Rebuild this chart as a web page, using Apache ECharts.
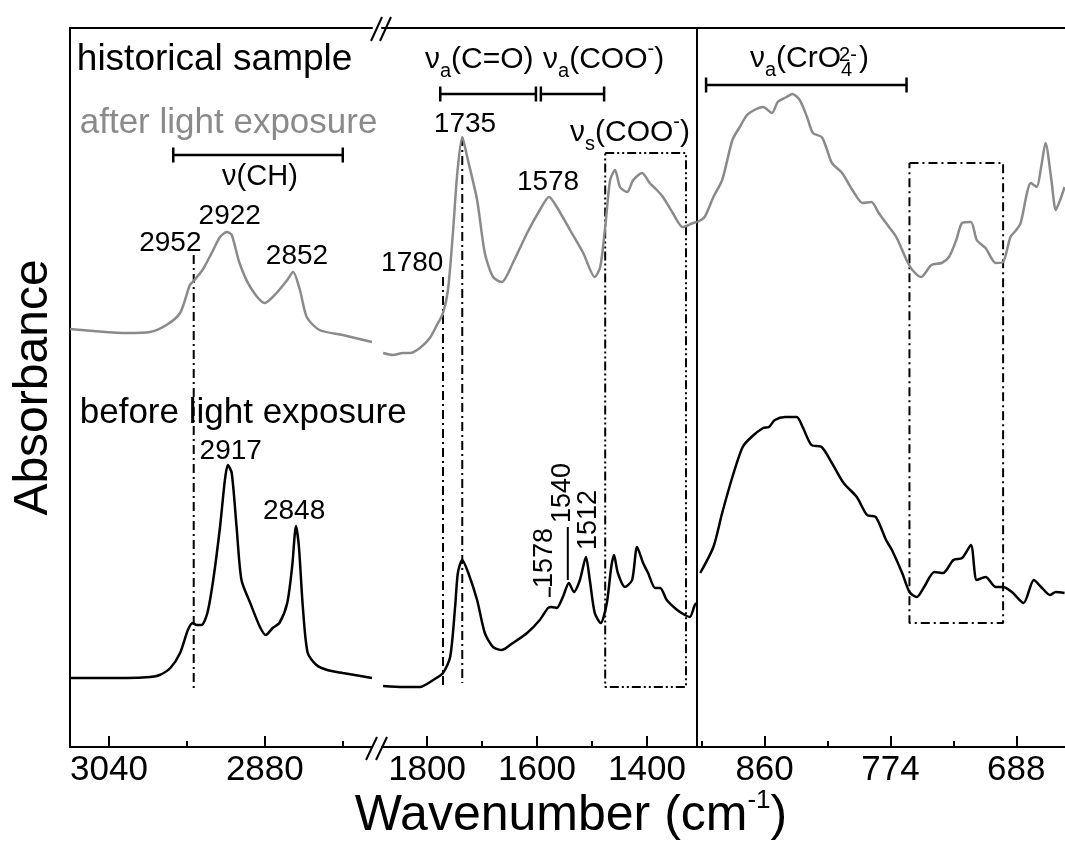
<!DOCTYPE html>
<html>
<head>
<meta charset="utf-8">
<script src="https://cdn.jsdelivr.net/npm/echarts@6/dist/echarts.min.js"></script>
<style>
  html, body { margin: 0; padding: 0; background: #fff; }
  #main { width: 1065px; height: 846px; }
</style>
</head>
<body>
<div id="main"></div>
<script>
// x ranges of the three broken-axis panels (cm-1, drawn reversed)
const range1 = [2770, 3080];
const range2 = [1309, 1882];
const range3 = [654.7, 906.2];

const major1 = [3040, 2880], minor1 = [2960, 2800];
const major2 = [1800, 1600, 1400], minor2 = [1700, 1500];
const major3 = [860, 774, 688], minor3 = [903, 817, 731];

// historical sample after light exposure (grey), [wavenumber, absorbance a.u.]
const afterCH = [[3080,4.18],[3056,4.16],[3022,4.14],[2998,4.15],[2981,4.22],[2967,4.34],[2957,4.62],[2954,4.65],[2944,4.77],[2933,4.97],[2926,5.10],[2919,5.15],[2914,5.12],[2906,4.84],[2895,4.60],[2880,4.44],[2868,4.54],[2857,4.67],[2851,4.75],[2844,4.57],[2837,4.30],[2824,4.17],[2800,4.12],[2770,4.05]];
const afterCO = [[1880,3.94],[1862,3.92],[1844,3.94],[1831,3.94],[1813,3.99],[1795,4.09],[1782,4.22],[1771,4.34],[1762,4.57],[1753,5.14],[1745,5.74],[1736,6.10],[1727,5.90],[1709,5.47],[1695,4.94],[1680,4.70],[1664,4.65],[1644,4.84],[1618,5.14],[1598,5.34],[1578,5.50],[1564,5.40],[1540,5.17],[1516,4.94],[1495,4.70],[1485,4.80],[1476,5.20],[1467,5.67],[1458,5.77],[1449,5.60],[1436,5.55],[1425,5.67],[1409,5.74],[1395,5.64],[1382,5.57],[1371,5.50],[1353,5.34],[1335,5.20],[1316,5.24],[1309,5.25]];
const afterCr = [[906,5.25],[901,5.30],[895,5.50],[889,5.67],[882,6.07],[877,6.20],[872,6.32],[867,6.37],[861,6.40],[855,6.34],[851,6.45],[845,6.50],[841,6.53],[836,6.47],[831,6.30],[827,6.14],[821,6.10],[818,6.00],[814,5.84],[807,5.74],[800,5.57],[793,5.44],[787,5.45],[782,5.34],[775,5.20],[770,5.10],[763,4.87],[759,4.77],[753,4.70],[746,4.82],[739,4.84],[734,4.90],[729,5.07],[725,5.24],[719,5.25],[715,5.07],[709,4.99],[702,4.84],[697,4.85],[692,5.10],[688,5.17],[685,5.24],[678,5.64],[674,5.60],[671,5.80],[668,6.04],[664,5.67],[661,5.37],[658,5.47],[655,5.60]];

// before light exposure (black)
const beforeCH = [[3080,0.69],[3056,0.69],[3022,0.69],[2998,0.70],[2988,0.72],[2977,0.79],[2967,0.94],[2959,1.17],[2954,1.24],[2950,1.22],[2945,1.22],[2939,1.34],[2933,1.67],[2926,2.20],[2921,2.67],[2918,2.82],[2914,2.74],[2909,2.20],[2904,1.67],[2895,1.44],[2885,1.20],[2879,1.12],[2872,1.19],[2865,1.24],[2857,1.44],[2852,1.80],[2848,2.21],[2845,2.00],[2841,1.40],[2836,0.94],[2827,0.82],[2816,0.77],[2800,0.74],[2770,0.69]];
const beforeCO = [[1880,0.61],[1844,0.60],[1813,0.60],[1789,0.67],[1771,0.74],[1758,0.90],[1749,1.40],[1744,1.74],[1736,1.87],[1725,1.74],[1709,1.47],[1695,1.14],[1680,1.00],[1664,0.97],[1644,1.04],[1618,1.14],[1595,1.27],[1580,1.39],[1573,1.40],[1564,1.39],[1553,1.50],[1542,1.64],[1533,1.55],[1522,1.67],[1511,1.90],[1504,1.67],[1495,1.34],[1484,1.24],[1473,1.44],[1465,1.80],[1460,1.92],[1453,1.74],[1440,1.60],[1427,1.67],[1418,2.00],[1407,1.84],[1398,1.74],[1385,1.59],[1376,1.59],[1364,1.47],[1345,1.37],[1331,1.32],[1322,1.30],[1313,1.42],[1309,1.44]];
const beforeCr = [[904,1.74],[895,2.00],[889,2.34],[882,2.70],[875,3.00],[869,3.10],[861,3.19],[857,3.20],[853,3.27],[846,3.30],[843,3.30],[838,3.30],[834,3.20],[828,3.02],[821,3.00],[814,2.84],[806,2.64],[797,2.50],[790,2.32],[784,2.30],[777,2.07],[773,1.97],[766,1.74],[761,1.55],[756,1.50],[751,1.60],[744,1.75],[738,1.74],[731,1.87],[725,1.89],[719,2.02],[715,1.67],[709,1.70],[702,1.60],[697,1.60],[691,1.55],[683,1.44],[676,1.67],[671,1.60],[665,1.52],[661,1.55],[655,1.54]];

// vertical guide lines [wavenumber, top, bottom]
const guides1 = [[2953, 4.92, 0.59]];
const guides2 = [[1771, 4.70, 0.60], [1736, 6.10, 0.64]];
// boxes [wnLeft, wnRight, top, bottom]
const box2 = [1476, 1329, 5.94, 0.60];
const box3 = [761, 697, 5.84, 1.24];
// band brackets [wnFrom, wnTo, level]
const brackets1 = [[2974, 2800, 5.92]];
const brackets2 = [[1776, 1602, 6.53], [1593, 1478, 6.53]];
const brackets3 = [[900, 763, 6.62]];
// short leader lines [wn, from, to]
const leaders2 = [[1577, 1.50, 1.60], [1544, 2.20, 1.67]];

// peak labels [text, wn, absorbance]
const peaks1 = [['2952', 2977, 5.04], ['2922', 2916, 5.31], ['2852', 2847, 4.91], ['2917', 2915, 2.96], ['2848', 2850, 2.36]];
const peaks2 = [['1780', 1827, 4.84], ['1735', 1731, 6.23], ['1578', 1580, 5.65]];
const rotPeaks2 = [['1578', 1587, 1.89], ['1540', 1553, 2.54], ['1512', 1507, 2.27]];

const FONT = '"Liberation Sans", Arial, Helvetica, sans-serif';
const GREY = '#8a8a8a';
const DASHDOT = [9, 4, 2, 4];
const DASHDOTDOT = [9, 3, 2, 3, 2, 3];
const AX = { color: '#000', width: 2 };

function xAxes(g, range, major, minor) {
  const base = { gridIndex: g, type: 'value', inverse: true, min: range[0], max: range[1], splitLine: { show: false } };
  return [
    Object.assign({}, base, {
      position: 'bottom',
      axisLine: { show: true, onZero: false, lineStyle: AX },
      axisTick: { show: true, inside: true, length: 11, customValues: major, lineStyle: AX },
      axisLabel: {
        show: true, customValues: major, fontSize: 35, fontFamily: FONT, color: '#000', margin: 6,
        formatter: function (v) { return String(v); }
      }
    }),
    Object.assign({}, base, {
      position: 'bottom',
      axisLine: { show: false, onZero: false },
      axisTick: { show: true, inside: true, length: 6, customValues: minor, lineStyle: AX },
      axisLabel: { show: false }
    }),
    Object.assign({}, base, {
      position: 'top',
      axisLine: { show: true, onZero: false, lineStyle: AX },
      axisTick: { show: false },
      axisLabel: { show: false }
    })
  ];
}

function yAxis(g, showLine, name) {
  return {
    gridIndex: g, type: 'value', min: 0, max: 7.19,
    axisLine: { show: showLine, onZero: false, lineStyle: AX },
    axisTick: { show: false }, axisLabel: { show: false }, splitLine: { show: false },
    name: name || '', nameLocation: 'middle', nameGap: 12, nameRotate: 90,
    nameTextStyle: { fontSize: 48, fontFamily: FONT, color: '#000' }
  };
}

function line(g, data, color, width, type) {
  return {
    type: 'line', xAxisIndex: g * 3, yAxisIndex: g, data: data,
    symbol: 'none', showSymbol: false, silent: true, animation: false,
    lineStyle: { color: color, width: width, type: type || 'solid' }, z: 3
  };
}
function curve(g, data, color) {
  const s = line(g, data, color, 2.5);
  s.smooth = 0.25;
  s.z = 4;
  return s;
}

const series = [];
[[0, afterCH, beforeCH], [1, afterCO, beforeCO], [2, afterCr, beforeCr]].forEach(function (p) {
  series.push(curve(p[0], p[1], GREY));
  series.push(curve(p[0], p[2], '#000'));
});
[[0, guides1], [1, guides2]].forEach(function (p) {
  p[1].forEach(function (v) {
    series.push(line(p[0], [[v[0], v[1]], [v[0], v[2]]], '#000', 2, DASHDOT));
  });
});
function boxData(b) {
  return [[b[0], b[2]], [b[1], b[2]], [b[1], b[3]], [b[0], b[3]], [b[0], b[2]]];
}
series.push(line(1, boxData(box2), '#000', 2, DASHDOTDOT));
series.push(line(2, boxData(box3), '#000', 2, DASHDOT));
[[0, brackets1], [1, brackets2], [2, brackets3]].forEach(function (p) {
  p[1].forEach(function (b) {
    const d = 0.075;
    series.push(line(p[0], [[b[0], b[2] + d], [b[0], b[2] - d], [b[0], b[2]], [b[1], b[2]], [b[1], b[2] + d], [b[1], b[2] - d]], '#000', 2.5));
  });
});
leaders2.forEach(function (l) {
  series.push(line(1, [[l[0], l[1]], [l[0], l[2]]], '#000', 2));
});

// text annotations drawn as labels on invisible points
const rich = {
  n: { fontSize: 30, lineHeight: 42, fontFamily: FONT, color: '#000' },
  sub: { fontSize: 20, lineHeight: 17, verticalAlign: 'bottom', fontFamily: FONT, color: '#000' },
  sup: { fontSize: 20, lineHeight: 17, verticalAlign: 'top', fontFamily: FONT, color: '#000' },
  s4: { fontSize: 20, lineHeight: 17, verticalAlign: 'bottom', width: 18, fontFamily: FONT, color: '#000' }
};
function textItem(t, x, y, opt) {
  opt = opt || {};
  return {
    value: [x, y],
    label: {
      show: true, position: [0, 0], formatter: t,
      align: opt.align || 'center', verticalAlign: 'middle',
      fontSize: opt.size || 28, fontFamily: FONT, color: opt.color || '#000', opacity: 1,
      rotate: opt.rotate || 0, rich: rich
    }
  };
}
function textSeries(g, items) {
  return {
    type: 'scatter', xAxisIndex: g * 3, yAxisIndex: g, symbolSize: 0, silent: true,
    animation: false, z: 6, data: items
  };
}

const texts1 = [
  textItem('historical sample', 3073, 6.87, { align: 'left', size: 37 }),
  textItem('after light exposure', 3070, 6.24, { align: 'left', size: 35, color: GREY }),
  textItem('before light exposure', 3070, 3.34, { align: 'left', size: 35 }),
  textItem('ν(CH)', 2885, 5.70, { size: 29 })
].concat(peaks1.map(function (p) { return textItem(p[0], p[1], p[2]); }));

const texts2 = [
  textItem('{n|ν}{sub|a}{n|(C=O)}', 1804, 6.87, { align: 'left' }),
  textItem('{n|ν}{sub|a}{n|(COO}{sup|-}{n|)}', 1589, 6.87, { align: 'left' }),
  textItem('{n|ν}{sub|s}{n|(COO}{sup|-}{n|)}', 1540, 6.14, { align: 'left' })
].concat(peaks2.map(function (p) { return textItem(p[0], p[1], p[2]); }))
 .concat(rotPeaks2.map(function (p) { return textItem(p[0], p[1], p[2], { rotate: 90, size: 27 }); }));

const texts3 = [
  textItem('{n|ν}{sub|a}{n|(CrO}{s4|4}{n|)}', 870, 6.88, { align: 'left' }),
  textItem('2-', 803, 6.92, { size: 20 })
];

series.push(textSeries(0, texts1), textSeries(1, texts2), textSeries(2, texts3));

const chart = echarts.init(document.getElementById('main'));
chart.setOption({
  animation: false,
  backgroundColor: '#fff',
  grid: [
    { left: 70, top: 28, width: 302, height: 719 },
    { left: 382, top: 28, width: 315, height: 719 },
    { left: 697, top: 28, width: 370, height: 719 }
  ],
  xAxis: xAxes(0, range1, major1, minor1).concat(xAxes(1, range2, major2, minor2), xAxes(2, range3, major3, minor3)),
  yAxis: [yAxis(0, true, 'Absorbance'), yAxis(1, false), yAxis(2, true)],
  series: series,
  graphic: [
    // axis break marks
    { type: 'line', shape: { x1: 371, y1: 41, x2: 382, y2: 17 }, style: { stroke: '#000', lineWidth: 2 } },
    { type: 'line', shape: { x1: 380, y1: 41, x2: 391, y2: 17 }, style: { stroke: '#000', lineWidth: 2 } },
    { type: 'line', shape: { x1: 366, y1: 760, x2: 377, y2: 737 }, style: { stroke: '#000', lineWidth: 2 } },
    { type: 'line', shape: { x1: 376, y1: 760, x2: 387, y2: 737 }, style: { stroke: '#000', lineWidth: 2 } },
    {
      type: 'text', x: 571, y: 816,
      style: {
        text: '{w|Wavenumber (cm}{s|-1}{w|)}',
        align: 'center', verticalAlign: 'middle',
        rich: {
          w: { fontSize: 50, lineHeight: 56, fontFamily: FONT, fill: '#000' },
          s: { fontSize: 26, lineHeight: 24, verticalAlign: 'top', fontFamily: FONT, fill: '#000' }
        }
      }
    }
  ]
});
</script>
</body>
</html>
